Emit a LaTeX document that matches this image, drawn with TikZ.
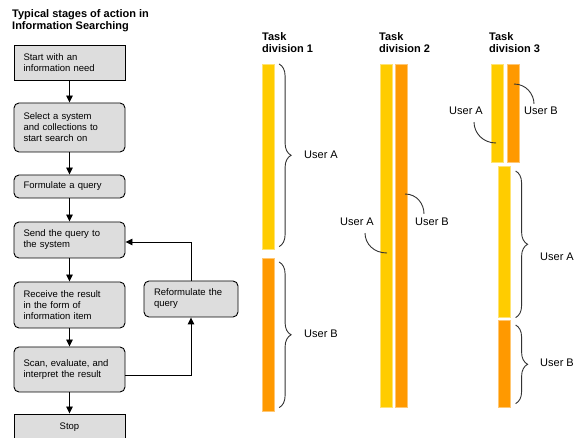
\documentclass[tikz,border=0pt]{standalone}
\usepackage{fontspec}
\setmainfont{Liberation Sans}
\usetikzlibrary{shapes,arrows,arrows.meta,decorations.pathreplacing,positioning}

\definecolor{BoxGrey}{HTML}{DDDDDD}
\definecolor{UserYellow}{HTML}{FFCC00}
\definecolor{UserOrange}{HTML}{FF9900}
\definecolor{LineGrey}{HTML}{333333}

\begin{document}
\begin{tikzpicture}[x=1pt,y=-1pt]
				\tikzstyle{Step}	= [rectangle, draw=black, line width=0.9pt, fill=BoxGrey, font=\fontsize{9.5}{11}\selectfont, align=left, text width=92pt, inner xsep=9.5pt, inner ysep=0pt, minimum width=111pt]
				\tikzstyle{Soft}	= [Step, rounded corners=5pt]
				\tikzstyle{Flow}	= [draw=black, line width=0.9pt, -{Triangle[length=7pt,width=6.5pt]}]
				\tikzstyle{Heading}	= [font=\fontsize{11}{12.5}\selectfont\bfseries, align=left, anchor=north west, inner sep=0pt]
				\tikzstyle{Bar}		= [rectangle, inner sep=0pt, minimum width=12pt, anchor=north west, line width=0.6pt]
				\tikzstyle{BarA}	= [Bar, fill=UserYellow, draw=UserYellow!55!white]
				\tikzstyle{BarB}	= [Bar, fill=UserOrange, draw=UserOrange!55!white]
				\tikzstyle{Brace}	= [draw=LineGrey, line width=0.9pt, decorate, decoration={brace, amplitude=12pt}]
				\tikzstyle{Callout}	= [draw=LineGrey, line width=0.9pt]
				\tikzstyle{UserLabel}	= [font=\fontsize{11}{13}\selectfont, inner sep=1pt, anchor=west]

				\useasboundingbox (0,0) rectangle (576,438);

				% flow chart
				\node (title) at (12,9) [Heading] {Typical stages of action in\\Information Searching};
				\node (start) at (69.5,62.5) [Step][minimum height=35pt] {Start with an\\information need};
				\node (select) at (69.5,127.5) [Soft][minimum height=49pt] {Select a system\\and collections to\\start search on};
				\node (formulate) at (69.5,186.5) [Soft][minimum height=23pt] {Formulate a query};
				\node (send) at (69.5,240) [Soft][minimum height=36pt] {Send the query to\\the system};
				\node (receive) at (69.5,305) [Soft][minimum height=46pt] {Receive the result\\in the form of\\information item};
				\node (scan) at (69.5,369.5) [Soft][minimum height=45pt] {Scan, evaluate, and\\interpret the result};
				\node (stop) at (69.5,427) [Step][minimum height=26pt, align=center] {Stop};
				\node (reform) at (191,299) [Soft][text width=74pt, inner xsep=10pt, minimum width=94pt, minimum height=36pt] {Reformulate the\\query};

				\draw[Flow] (start) -- (select);
				\draw[Flow] (select) -- (formulate);
				\draw[Flow] (formulate) -- (send);
				\draw[Flow] (send) -- (receive);
				\draw[Flow] (receive) -- (scan);
				\draw[Flow] (scan) -- (stop);
				\draw[Flow] ([yshift=-6pt]scan.east) -| (reform.south);
				\draw[Flow] (reform.north) |- ([yshift=-2pt]send.east);

				% task divisions
				\node (head1) at (262,32) [Heading] {Task\\division 1};
				\node (head2) at (379,32) [Heading] {Task\\division 2};
				\node (head3) at (489,32) [Heading] {Task\\division 3};

				\node (da1) at (262,64) [BarA][minimum height=185pt] {};
				\node (db1) at (262,258) [BarB][minimum height=153pt] {};
				\node (da2) at (380,64) [BarA][minimum height=343pt] {};
				\node (db2) at (395,64) [BarB][minimum height=343pt] {};
				\node (da3) at (491,64) [BarA][minimum height=98pt] {};
				\node (db3) at (507,64) [BarB][minimum height=98pt] {};
				\node (da3low) at (498,166) [BarA][minimum height=151pt] {};
				\node (db3low) at (498,320) [BarB][minimum height=87pt] {};

				\node (ua1) at (303,155) [UserLabel] {User A};
				\node (ub1) at (303,334) [UserLabel] {User B};
				\node (ua2) at (339,222) [UserLabel] {User A};
				\node (ub2) at (414,222) [UserLabel] {User B};
				\node (ua3) at (448,111) [UserLabel] {User A};
				\node (ub3) at (523,111) [UserLabel] {User B};
				\node (ua3low) at (539,257) [UserLabel] {User A};
				\node (ub3low) at (539,363) [UserLabel] {User B};

				\draw[Brace] ([xshift=4.5pt]da1.north east) -- ([xshift=4.5pt,yshift=3pt]da1.south east);
				\draw[Brace] ([xshift=4.5pt,yshift=-4pt]db1.north east) -- ([xshift=4.5pt,yshift=4pt]db1.south east);
				\draw[Brace] ([xshift=5pt,yshift=-5pt]da3low.north east) -- ([xshift=5pt]da3low.south east);
				\draw[Brace] ([xshift=5pt,yshift=-5pt]db3low.north east) -- ([xshift=5pt,yshift=4pt]db3low.south east);

				\coordinate (cb2) at (405,194);
				\coordinate (ca2) at (387,253);
				\coordinate (cb3) at (514,84);
				\coordinate (ca3) at (496,143);

				\draw[Callout] (cb2) .. controls +(12,0) and +(0,-10) .. ([xshift=10pt,yshift=3pt]ub2.north west);
				\draw[Callout] ([xshift=-10pt,yshift=-6pt]ua2.south east) .. controls +(0,11) and +(-13,0) .. (ca2);
				\draw[Callout] (cb3) .. controls +(12,0) and +(0,-10) .. ([xshift=11pt,yshift=2pt]ub3.north west);
				\draw[Callout] ([xshift=-10pt,yshift=-6pt]ua3.south east) .. controls +(0,11) and +(-13,0) .. (ca3);

			\end{tikzpicture}
\end{document}
